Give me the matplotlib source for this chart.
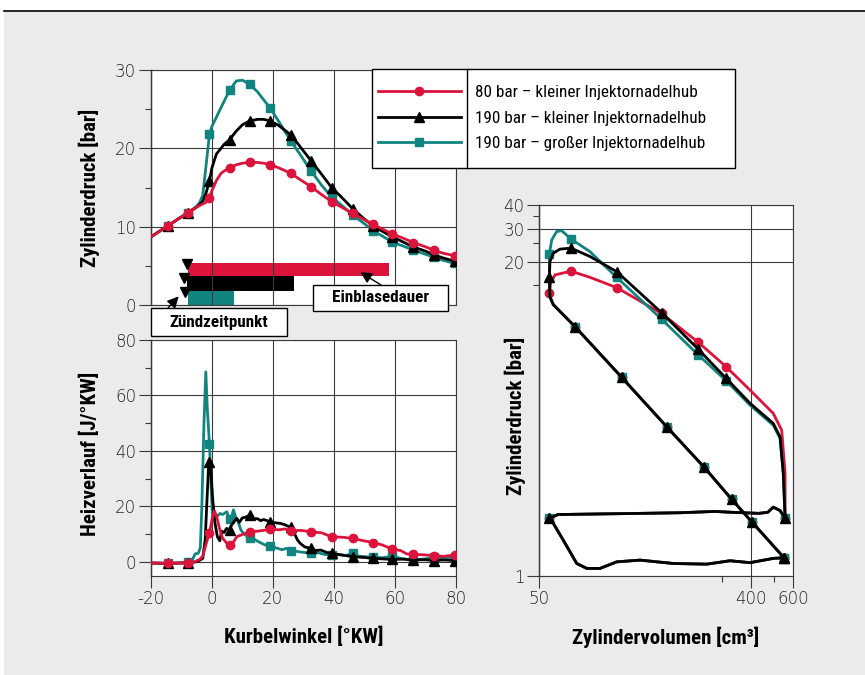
import matplotlib
matplotlib.use('Agg')
import matplotlib.pyplot as plt
from matplotlib.patches import Rectangle
from matplotlib.lines import Line2D
from matplotlib.ticker import FixedLocator, FixedFormatter, NullFormatter

RED = '#dc143c'
TEAL = '#12847f'
BLACK = '#000000'
GRID = '#3a3a3a'
COND = ['Roboto Condensed', 'Liberation Sans Narrow', 'Roboto']

plt.rcParams['font.family'] = ['DejaVu Sans']
plt.rcParams['font.weight'] = 'light'

series_labels = ['80 bar – kleiner Injektornadelhub',
                 '190 bar – kleiner Injektornadelhub',
                 '190 bar – großer Injektornadelhub']

# crank angles that carry a marker
marker_ka = [-14.5, -7.7, -0.8, 5.8, 12.4, 19.2, 26, 32.6, 39.3, 46.2, 52.9, 59.3, 66.2, 72.9, 79.7]

# Zylinderdruck [bar] over Kurbelwinkel [°KW]
ka = [-20, -14.5, -11, -7.7, -5, -4, -3, -2, -0.8, 0, 1.5, 3, 4, 5.8, 8, 10, 12.4, 15, 17, 19.2,
      22, 26, 29, 32.6, 36, 39.3, 43, 46.2, 50, 52.9, 56, 59.3, 63, 66.2, 70, 72.9, 76, 79.7, 80]
p_red = [8.7, 10.1, 11.0, 11.8, 12.5, 12.7, 12.9, 13.1, 13.7, 14.6, 15.9, 16.8, 17.1, 17.5, 17.9, 18.1,
         18.2, 18.2, 18.1, 17.9, 17.5, 16.8, 16.0, 15.1, 14.1, 13.2, 12.4, 11.7, 10.9, 10.3, 9.7, 9.06,
         8.5, 7.96, 7.45, 7.0, 6.6, 6.3, 6.25]
p_black = [8.7, 10.1, 11.0, 11.8, 12.5, 12.8, 13.2, 14.2, 15.8, 17.5, 19.3, 20.0, 20.5, 21.1, 22.2, 23.0,
           23.5, 23.7, 23.7, 23.5, 22.9, 21.7, 20.2, 18.4, 16.7, 15.0, 13.6, 12.3, 11.0, 10.1, 9.4, 8.7,
           8.0, 7.4, 6.9, 6.4, 6.0, 5.6, 5.55]
p_teal = [8.7, 10.1, 11.0, 11.8, 12.6, 13.1, 14.0, 17.5, 21.8, 22.8, 24.0, 25.2, 26.0, 27.4, 28.6, 28.7,
          28.2, 27.2, 26.2, 25.1, 23.4, 20.9, 19.2, 17.1, 15.3, 13.8, 12.6, 11.5, 10.4, 9.5, 8.8, 8.0,
          7.5, 7.0, 6.5, 6.1, 5.7, 5.3, 5.3]

# Einblasedauer bars and Zündzeitpunkt
bar_start = [-7.7, -8.3, -7.7]
bar_end = [58.1, 27.0, 7.2]
bar_bottom = [3.7, 1.8, 0.0]
bar_height = [1.65, 1.9, 1.8]
zzp_ka = [-8.3, -9.2, -8.8]
zzp_y = [5.2, 3.5, 1.7]

# Heizverlauf [J/°KW]
hr_ka_red = [-20, -14.5, -10, -7.7, -6, -5, -4, -3, -2, -0.8, 0, 0.8, 1.5, 2.5, 3.5, 5, 5.8, 7, 8.2, 10,
             12.4, 15, 17, 19.2, 22, 24, 26, 29, 32.6, 36, 39.3, 43, 46.2, 50, 52.9, 56, 59.3, 62, 64,
             66.2, 69, 72.9, 76, 79.7, 80]
hr_red = [-0.5, -0.6, -0.5, -0.6, -0.2, 0.3, 0.8, 2.0, 6.0, 10.5, 15.0, 18.4, 16.5, 12.0, 8.5, 6.5, 6.0,
          7.0, 9.0, 9.8, 10.8, 11.0, 11.3, 11.7, 11.5, 11.8, 11.1, 11.3, 10.8, 10.4, 9.0, 8.8, 8.4, 7.5,
          6.9, 6.0, 4.5, 4.0, 2.8, 2.6, 2.5, 2.2, 1.9, 2.4, 2.6]
hr_ka_black = [-20, -14.5, -10, -7.7, -5, -4, -3, -2.2, -1.5, -1.0, -0.8, -0.3, 0.3, 1.0, 1.8, 2.6, 3.2,
               4, 4.8, 5.8, 6.6, 7.5, 8.2, 9, 10, 11, 12.4, 13.5, 15, 16, 17, 19.2, 21, 22.5, 24, 25.3,
               26, 27, 28, 29, 30.5, 32.6, 34, 35.7, 38, 39.3, 42, 44, 46.2, 50, 52.9, 56, 59.3, 63,
               66.2, 70, 72.9, 76, 79.7, 80]
hr_black = [-0.5, -0.6, -0.5, -0.5, 0.0, 0.5, 1.2, 8.0, 25.0, 36.5, 36.1, 32.0, 22.0, 14.0, 9.0, 7.5,
            11.0, 10.5, 12.0, 11.5, 13.5, 14.8, 15.6, 14.2, 15.8, 16.0, 16.8, 15.5, 15.5, 14.8, 15.2,
            14.4, 14.0, 13.8, 13.3, 12.6, 12.6, 10.5, 8.0, 6.6, 5.3, 4.8, 4.0, 4.2, 3.2, 3.0, 2.5, 2.2,
            1.8, 1.5, 1.2, 1.0, 0.8, 0.9, 0.6, 0.7, 0.4, 0.6, 0.4, 0.4]
hr_ka_teal = [-20, -14.5, -10, -7.7, -6.5, -5.5, -4.5, -3.8, -3.3, -2.6, -2.0, -1.5, -0.8, -0.3, 0.2,
              0.8, 1.8, 2.7, 3.5, 4.9, 5.8, 6.4, 7.1, 7.8, 8.8, 9.5, 10.4, 12.4, 14, 16, 17.5, 19.2, 21,
              23, 24.5, 26, 29, 32.6, 35, 37, 39.3, 42, 44, 46.2, 48, 50, 52.9, 56, 59.3, 62, 64, 66.2,
              70, 72.9, 76, 79.7, 80]
hr_teal = [-0.5, -0.6, -0.4, -0.2, 0.5, 2.8, 3.0, 5.0, 20.0, 50.0, 68.5, 55.0, 42.5, 28.0, 16.2, 15.0,
           16.5, 17.4, 17.0, 18.0, 15.3, 16.0, 18.7, 16.0, 13.8, 11.5, 10.2, 8.4, 8.0, 6.8, 6.0, 5.7,
           5.0, 4.3, 4.8, 4.0, 3.5, 3.0, 3.2, 2.6, 2.4, 2.5, 2.2, 3.0, 2.0, 1.8, 1.6, 1.4, 2.0, 1.2,
           0.8, 0.6, 1.0, 1.6, 1.4, 1.6, 1.6]

# p-V diagram: compression line and gas exchange loop shared by all three runs
v_comp = [551, 401.6, 329.8, 252.3, 175.4, 112.2, 71.0, 57.4, 55.5]
p_comp = [0.533, 0.828, 1.09, 1.61, 2.63, 4.85, 9.02, 11.8, 13.0]
comp_marks = [0, 1, 2, 3, 4, 5, 6]
v_gas = [530, 496, 470, 430, 330, 280, 200, 114, 60, 55.2, 57.4, 63.2, 72.2, 79.6, 90.7, 106.8, 134.2,
         186.1, 258.2, 324.4, 395, 496, 551]
p_gas = [0.95, 0.99, 0.93, 0.918, 0.93, 0.94, 0.925, 0.915, 0.905, 0.863, 0.811, 0.662, 0.497, 0.468,
         0.468, 0.507, 0.518, 0.497, 0.493, 0.514, 0.502, 0.529, 0.533]
gas_marks = [9, 22]
# combustion and expansion
v_exp_red = [55.2, 55.9, 58.3, 68.2, 82.2, 106.8, 166.0, 237.8, 312, 395, 496, 538.6, 557, 557]
p_exp_red = [13.7, 15.35, 17.0, 17.8, 16.5, 14.55, 10.6, 7.45, 5.53, 4.15, 3.12, 2.54, 1.5, 0.863]
exp_marks_red = [0, 3, 5, 6, 7, 8, 13]
v_exp_black = [55.2, 55.5, 57.4, 61.2, 68.2, 82.2, 106.8, 166.0, 237.8, 312, 395, 496, 530, 547, 557]
p_exp_black = [16.5, 20.0, 22.2, 23.3, 23.6, 21.3, 17.7, 10.7, 6.84, 4.8, 3.53, 2.76, 2.34, 1.5, 0.863]
exp_marks_black = [0, 4, 6, 7, 8, 9, 14]
v_exp_teal = [55.2, 55.2, 56.5, 59.3, 62.3, 68.2, 82.2, 106.8, 166.0, 237.8, 312, 395, 496, 530, 547, 557]
p_exp_teal = [16.0, 22.0, 26.1, 28.9, 29.2, 26.4, 22.6, 16.5, 9.88, 6.38, 4.66, 3.45, 2.70, 2.30, 1.5, 0.863]
exp_marks_teal = [1, 5, 7, 8, 9, 10, 15]


def marks_at(xs):
    return [i for i, v in enumerate(xs) if v in marker_ka]


def style_axes(ax):
    ax.set_facecolor('white')
    for side in ['top', 'right', 'bottom']:
        ax.spines[side].set_color(GRID)
        ax.spines[side].set_linewidth(0.8)
    ax.spines['left'].set_color('#111111')
    ax.spines['left'].set_linewidth(1.0)
    ax.set_axisbelow(False)
    ax.grid(True, which='major', color=GRID, lw=0.8)
    ax.tick_params(which='major', direction='out', length=8.6, width=0.8, color=GRID,
                   labelsize=12, pad=2, labelcolor='#222222')
    ax.tick_params(which='minor', direction='out', length=4.3, width=0.8, color=GRID)


fig = plt.figure(figsize=(8.65, 6.75), dpi=100)
fig.patch.set_facecolor('white')
fig.add_artist(Rectangle((4 / 865, 0), 1, 1 - 12 / 675, transform=fig.transFigure,
                         fc='#ebebeb', ec='none', zorder=-10))
fig.add_artist(Line2D([4 / 865, 1], [1 - 11 / 675, 1 - 11 / 675], transform=fig.transFigure,
                      color='black', lw=1.2))

series = [(RED, 'o', 6), (BLACK, '^', 6.5), (TEAL, 's', 5.5)]
LW = 2.0
LABEL = dict(family=COND, weight='bold', size=15, va='center')

# ---- top left: Zylinderdruck ----
ax1 = fig.add_axes([151 / 865, 1 - 305 / 675, 304.5 / 865, 235 / 675])
style_axes(ax1)
ax1.barh([b + h / 2 for b, h in zip(bar_bottom, bar_height)],
         [e - s for s, e in zip(bar_start, bar_end)], left=bar_start, height=bar_height,
         color=[RED, BLACK, TEAL], zorder=1)
ax1.plot(zzp_ka, zzp_y, 'v', color='black', ms=7, ls='none', zorder=4, clip_on=False)
for p, (c, m, ms) in zip([p_teal, p_black, p_red], [series[2], series[1], series[0]]):
    ax1.plot(ka, p, color=c, lw=LW, marker=m, ms=ms, markevery=marks_at(ka), zorder=3)
ax1.set_xlim(-20, 80)
ax1.set_ylim(0, 30)
ax1.xaxis.set_major_locator(FixedLocator([-20, 0, 20, 40, 60, 80]))
ax1.yaxis.set_major_locator(FixedLocator([0, 10, 20, 30]))
ax1.yaxis.set_minor_locator(FixedLocator([5, 15, 25]))
ax1.tick_params(axis='x', length=0, labelbottom=False)
ax1.set_ylabel('Zylinderdruck [bar]', **LABEL)
ax1.yaxis.set_label_coords(-0.204, 0.5)

arrow = dict(arrowstyle='-|>', color='black', lw=1, mutation_scale=17, shrinkA=0, shrinkB=0)
ax1.annotate('', xy=(48.75, 4.2), xytext=(381 / 865, 1 - 285 / 675), textcoords='figure fraction',
             arrowprops=arrow, annotation_clip=False, zorder=6)
ax1.annotate('', xy=(-10.9, 1.1), xytext=(168 / 865, 1 - 308 / 675), textcoords='figure fraction',
             arrowprops=arrow, annotation_clip=False, zorder=6)

# annotation boxes
for (x0, y0, x1, y1), txt in [((313, 285, 448, 311), 'Einblasedauer'),
                              ((151, 308, 287, 336), 'Zündzeitpunkt')]:
    fig.add_artist(Rectangle((x0 / 865, 1 - y1 / 675), (x1 - x0) / 865, (y1 - y0) / 675,
                             transform=fig.transFigure, fc='white', ec='black', lw=1, zorder=5))
    fig.text((x0 + x1) / 2 / 865, 1 - (y0 + y1) / 2 / 675, txt, family=COND, weight='bold',
             size=12.3, ha='center', va='center', zorder=6)

# legend
fig.add_artist(Rectangle((372 / 865, 1 - 168 / 675), 363 / 865, 99 / 675, transform=fig.transFigure,
                         fc='white', ec='black', lw=1, zorder=5))
fig.add_artist(Line2D([467 / 865, 467 / 865], [1 - 168 / 675, 1 - 69 / 675], transform=fig.transFigure,
                      color='black', lw=1, zorder=6))
handles = [Line2D([], [], color=c, lw=LW, marker=m, ms=ms) for c, m, ms in series]
leg = fig.legend(handles, series_labels, loc='upper left', bbox_to_anchor=(378 / 865, 1 - 85 / 675),
                 frameon=False, borderpad=0, borderaxespad=0, handlelength=4.85, handletextpad=0.8,
                 labelspacing=0.62, prop=dict(family=COND, weight='normal', size=12.3))
leg.set_zorder(7)

# ---- bottom left: Heizverlauf ----
ax2 = fig.add_axes([151 / 865, 1 - 575.5 / 675, 304.5 / 865, 235.5 / 675])
style_axes(ax2)
for xs, hr, (c, m, ms) in [(hr_ka_teal, hr_teal, series[2]), (hr_ka_black, hr_black, series[1]),
                           (hr_ka_red, hr_red, series[0])]:
    ax2.plot(xs, hr, color=c, lw=LW, marker=m, ms=ms, markevery=marks_at(xs), zorder=3)
ax2.set_xlim(-20, 80)
ax2.set_ylim(-5, 80)
ax2.xaxis.set_major_locator(FixedLocator([-20, 0, 20, 40, 60, 80]))
ax2.yaxis.set_major_locator(FixedLocator([0, 20, 40, 60, 80]))
ax2.yaxis.set_minor_locator(FixedLocator([10, 30, 50, 70]))
ax2.set_xticklabels(['-20', '0', '20', '40', '60', '80'])
ax2.set_ylabel('Heizverlauf [J/°KW]', **LABEL)
ax2.yaxis.set_label_coords(-0.200, 0.516)
ax2.set_xlabel('Kurbelwinkel [°KW]', **LABEL)
ax2.xaxis.set_label_coords(0.5, -0.261)

# ---- right: p-V diagram ----
ax3 = fig.add_axes([539.3 / 865, 1 - 575.7 / 675, 253.4 / 865, 370.7 / 675])
style_axes(ax3)
ax3.set_xscale('log')
ax3.set_yscale('log')
for ve, pe, em, (c, m, ms) in [(v_exp_red, p_exp_red, exp_marks_red, series[0]),
                               (v_exp_teal, p_exp_teal, exp_marks_teal, series[2]),
                               (v_exp_black, p_exp_black, exp_marks_black, series[1])]:
    v = v_comp + ve + v_gas
    p = p_comp + pe + p_gas
    n1, n2 = len(v_comp), len(v_comp) + len(ve)
    marks = comp_marks + [n1 + i for i in em] + [n2 + i for i in gas_marks]
    ax3.plot(v, p, color=c, lw=LW, marker=m, ms=ms, markevery=marks, zorder=3)
ax3.set_xlim(50, 600)
ax3.set_ylim(0.428, 40)
ax3.xaxis.set_major_locator(FixedLocator([50, 400, 600]))
ax3.xaxis.set_minor_locator(FixedLocator([300, 500]))
ax3.xaxis.set_major_formatter(FixedFormatter(['50', '400', '600']))
ax3.xaxis.set_minor_formatter(NullFormatter())
ax3.yaxis.set_major_locator(FixedLocator([0.428, 20, 30, 40]))
ax3.yaxis.set_minor_locator(FixedLocator([15, 25, 35]))
ax3.yaxis.set_major_formatter(FixedFormatter(['1', '20', '30', '40']))
ax3.yaxis.set_minor_formatter(NullFormatter())
ax3.set_ylabel('Zylinderdruck [bar]', **LABEL)
ax3.yaxis.set_label_coords(-0.096, 0.431)
ax3.set_xlabel('Zylindervolumen [cm³]', **LABEL)
ax3.xaxis.set_label_coords(0.5, -0.166)

fig.savefig('out.png', dpi=100)
